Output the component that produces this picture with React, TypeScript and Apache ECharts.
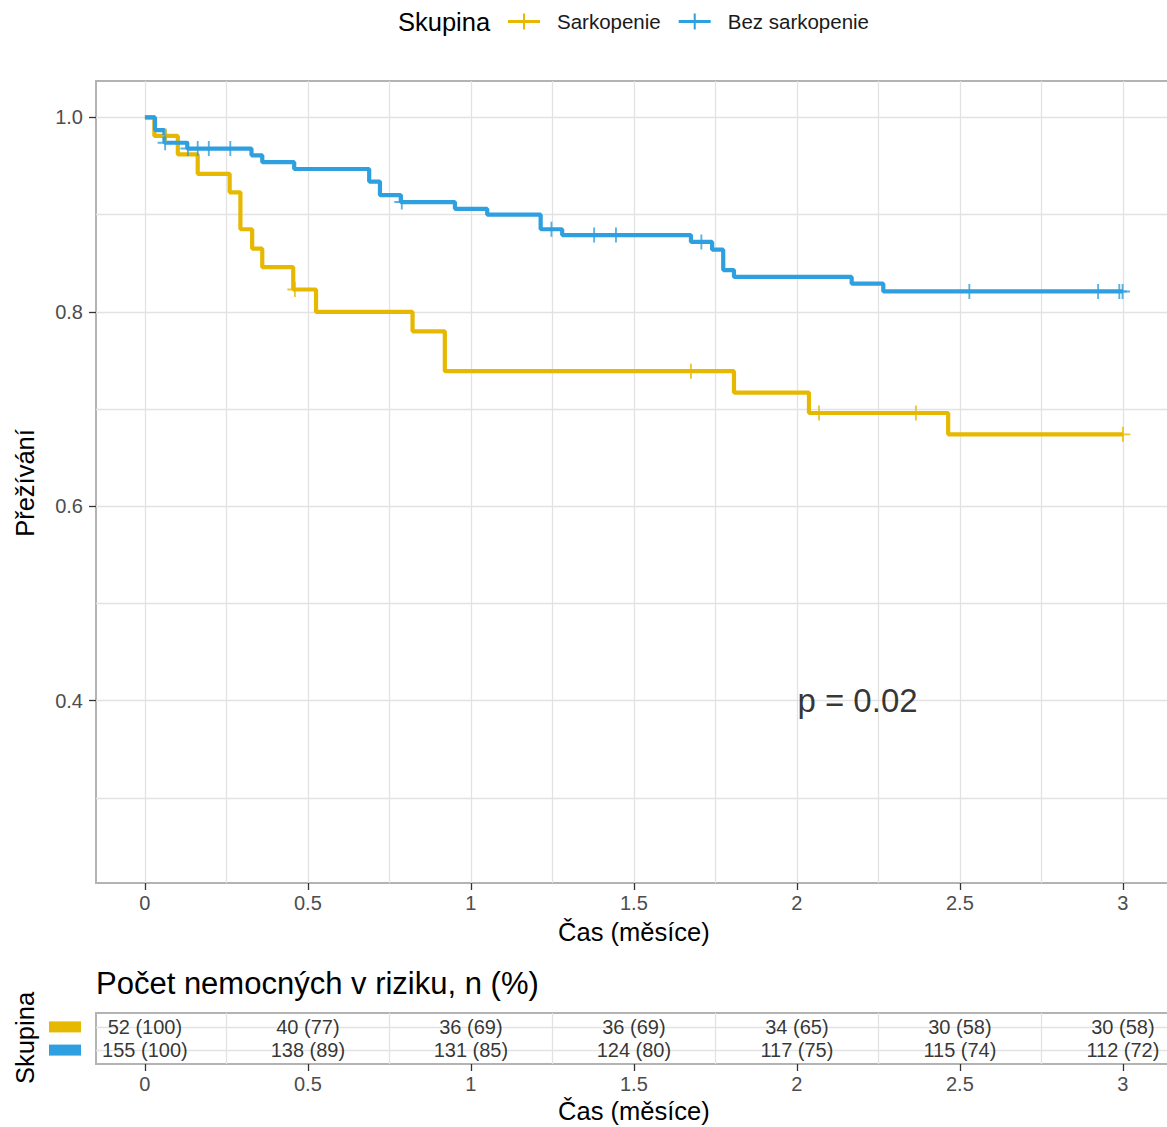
import React, { useEffect, useRef } from "react";
import * as echarts from "echarts";

const FONT = "'Liberation Sans', Arial, sans-serif";
const YELLOW = "#E7B800";
const BLUE = "#2E9FDF";

const groups = ["Sarkopenie", "Bez sarkopenie"];

// Kaplan-Meier steps (time in months, survival)
const sarkTimes = [0, 0.029, 0.101, 0.162, 0.26, 0.293, 0.329, 0.36, 0.455, 0.525, 0.821, 0.92, 1.807, 2.037, 2.464, 3.0];
const sarkSurv = [1, 0.981, 0.962, 0.942, 0.923, 0.885, 0.865, 0.846, 0.823, 0.8, 0.78, 0.739, 0.717, 0.696, 0.674, 0.674];
const sarkCensor = [0.064, 0.46, 1.675, 2.068, 2.365, 3.0];

const bezTimes = [0, 0.031, 0.06, 0.13, 0.327, 0.36, 0.458, 0.688, 0.721, 0.785, 0.951, 1.05, 1.214, 1.28, 1.675, 1.74, 1.774, 1.807, 2.168, 2.265, 3.0];
const bezSurv = [1, 0.987, 0.974, 0.968, 0.961, 0.954, 0.947, 0.934, 0.92, 0.913, 0.906, 0.9, 0.885, 0.879, 0.872, 0.864, 0.843, 0.836, 0.829, 0.821, 0.821];
const bezCensor = [0.062, 0.132, 0.162, 0.196, 0.262, 0.788, 1.247, 1.378, 1.445, 1.707, 2.529, 2.924, 2.989, 2.999];

// Risk table
const riskTimes = [0, 0.5, 1, 1.5, 2, 2.5, 3];
const riskSark = ["52 (100)", "40 (77)", "36 (69)", "36 (69)", "34 (65)", "30 (58)", "30 (58)"];
const riskBez = ["155 (100)", "138 (89)", "131 (85)", "124 (80)", "117 (75)", "115 (74)", "112 (72)"];

const xTicks = [0, 0.5, 1, 1.5, 2, 2.5, 3];
const xMinor = [0.25, 0.75, 1.25, 1.75, 2.25, 2.75];
const yTicks = [0.4, 0.6, 0.8, 1.0];
const yMinor = [0.3, 0.5, 0.7, 0.9];

const pText = "p = 0.02";
const pPos = [2, 0.4];

const PLUS = "path://M7,0h2v7h7v2h-7v7h-2v-7h-7v-2h7z";
const LEG_ICON = "path://M0,6.5h32v3h-32z M15,0h2v16h-2z";

function survAt(times: number[], surv: number[], t: number) {
  let s = surv[0];
  for (let i = 0; i < times.length; i++) if (times[i] <= t) s = surv[i];
  return s;
}

export default function App() {
  const ref = useRef<HTMLDivElement>(null);
  useEffect(() => {
    const chart = echarts.init(ref.current!, null, { renderer: "svg" });
    const gridLine = { color: "#e2e2e2", width: 1.3, type: "solid" as const };
    const mainGridLines = [
      ...[...xTicks, ...xMinor].map((v) => ({ xAxis: v })),
      ...[...yTicks, ...yMinor].map((v) => ({ yAxis: v })),
    ];
    const tableGridLines = [...xMinor.map((v) => ({ xAxis: v })), { yAxis: 1 }, { yAxis: 2 }];

    const xAxisCommon = (gridIndex: number, nameGap: number) => ({
      type: "value",
      gridIndex,
      min: -0.15,
      max: 3.15,
      axisLine: { show: false, onZero: false },
      splitLine: { show: false },
      axisTick: { show: true, length: 7, customValues: xTicks, lineStyle: { color: "#333", width: 1.3 } },
      axisLabel: {
        customValues: xTicks,
        formatter: (v: number) => String(v),
        fontSize: 20,
        color: "#4d4d4d",
        fontFamily: FONT,
        margin: 10,
      },
      name: "Čas (měsíce)",
      nameLocation: "middle",
      nameGap,
      nameTextStyle: { fontSize: 25.5, color: "#000", fontFamily: FONT },
    });

    chart.setOption({
      animation: false,
      backgroundColor: "#fff",
      textStyle: { fontFamily: FONT },
      legend: {
        data: groups,
        left: 508,
        top: 11,
        padding: 0,
        itemWidth: 32,
        itemHeight: 16,
        itemGap: 18,
        icon: LEG_ICON,
        selectedMode: false,
        textStyle: { fontSize: 20.5, color: "#1a1a1a", fontFamily: FONT, padding: [0, 0, 0, 12] },
      },
      graphic: [
        { type: "text", left: 398, top: 9, style: { text: "Skupina", fontSize: 25.5, fill: "#000", fontFamily: FONT } },
        {
          type: "text",
          x: 25,
          y: 483,
          rotation: Math.PI / 2,
          style: { text: "Přežívání", fontSize: 25.5, fill: "#000", fontFamily: FONT, align: "center", verticalAlign: "middle" },
        },
        {
          type: "text",
          x: 96,
          y: 983,
          style: { text: "Počet nemocných v riziku, n (%)", fontSize: 31, fill: "#000", fontFamily: FONT, align: "left", verticalAlign: "middle" },
        },
        {
          type: "text",
          x: 25,
          y: 1038,
          rotation: Math.PI / 2,
          style: { text: "Skupina", fontSize: 25.5, fill: "#000", fontFamily: FONT, align: "center", verticalAlign: "middle" },
        },
      ],
      grid: [
        { left: 96, top: 81, width: 1075.8, height: 802, show: true, borderColor: "#b3b3b3", borderWidth: 2, backgroundColor: "transparent" },
        { left: 96, top: 1013, width: 1075.8, height: 51, show: true, borderColor: "#b3b3b3", borderWidth: 2, backgroundColor: "transparent" },
      ],
      xAxis: [xAxisCommon(0, 36), xAxisCommon(1, 34)],
      yAxis: [
        {
          type: "value",
          gridIndex: 0,
          min: 0.2125,
          max: 1.0375,
          axisLine: { show: false, onZero: false },
          splitLine: { show: false },
          axisTick: { show: true, length: 7, customValues: yTicks, lineStyle: { color: "#333", width: 1.3 } },
          axisLabel: {
            customValues: yTicks,
            formatter: (v: number) => v.toFixed(1),
            fontSize: 20,
            color: "#4d4d4d",
            fontFamily: FONT,
            margin: 13,
          },
        },
        {
          type: "value",
          gridIndex: 1,
          min: 0.4,
          max: 2.6,
          inverse: true,
          axisLine: { show: false, onZero: false },
          splitLine: { show: false },
          axisTick: { show: false },
          axisLabel: {
            customValues: [1, 2],
            margin: 15,
            formatter: (v: number) => (v === 1 ? "{s| }" : "{b| }"),
            rich: {
              s: { backgroundColor: YELLOW, width: 32, height: 11 },
              b: { backgroundColor: BLUE, width: 32, height: 11 },
            },
          },
        },
      ],
      series: [
        {
          name: "grid-main",
          type: "line",
          xAxisIndex: 0,
          yAxisIndex: 0,
          data: [],
          z: 1,
          silent: true,
          markLine: { z: 1, silent: true, symbol: ["none", "none"], label: { show: false }, lineStyle: gridLine, data: mainGridLines },
        },
        {
          name: groups[0],
          type: "line",
          step: "end",
          xAxisIndex: 0,
          yAxisIndex: 0,
          showSymbol: false,
          symbol: "none",
          color: YELLOW,
          lineStyle: { color: YELLOW, width: 4.2 },
          data: sarkTimes.map((t, i) => [t, sarkSurv[i]]),
          z: 3,
        },
        {
          name: groups[1],
          type: "line",
          step: "end",
          xAxisIndex: 0,
          yAxisIndex: 0,
          showSymbol: false,
          symbol: "none",
          color: BLUE,
          lineStyle: { color: BLUE, width: 4.2 },
          data: bezTimes.map((t, i) => [t, bezSurv[i]]),
          z: 4,
        },
        {
          name: "cens-sark",
          type: "scatter",
          xAxisIndex: 0,
          yAxisIndex: 0,
          symbol: PLUS,
          symbolSize: 15,
          itemStyle: { color: YELLOW },
          data: sarkCensor.map((t) => [t, survAt(sarkTimes, sarkSurv, t)]),
          z: 5,
        },
        {
          name: "cens-bez",
          type: "scatter",
          xAxisIndex: 0,
          yAxisIndex: 0,
          symbol: PLUS,
          symbolSize: 15,
          itemStyle: { color: BLUE },
          data: bezCensor.map((t) => [t, survAt(bezTimes, bezSurv, t)]),
          z: 6,
        },
        {
          name: "pval",
          type: "scatter",
          xAxisIndex: 0,
          yAxisIndex: 0,
          symbolSize: 1,
          itemStyle: { color: "transparent" },
          data: [pPos],
          label: { show: true, position: "right", distance: 0, formatter: pText, fontSize: 33, color: "#000", fontFamily: FONT },
          z: 7,
        },
        {
          name: "grid-table",
          type: "line",
          xAxisIndex: 1,
          yAxisIndex: 1,
          data: [],
          z: 1,
          silent: true,
          markLine: { z: 1, silent: true, symbol: ["none", "none"], label: { show: false }, lineStyle: gridLine, data: tableGridLines },
        },
        {
          name: "risk-sark",
          type: "scatter",
          xAxisIndex: 1,
          yAxisIndex: 1,
          symbolSize: 1,
          itemStyle: { color: "transparent" },
          data: riskTimes.map((t, i) => [t, 1, riskSark[i]]),
          label: { show: true, position: "inside", formatter: (p: any) => p.value[2], fontSize: 20, color: "#000", fontFamily: FONT },
          z: 5,
        },
        {
          name: "risk-bez",
          type: "scatter",
          xAxisIndex: 1,
          yAxisIndex: 1,
          symbolSize: 1,
          itemStyle: { color: "transparent" },
          data: riskTimes.map((t, i) => [t, 2, riskBez[i]]),
          label: { show: true, position: "inside", formatter: (p: any) => p.value[2], fontSize: 20, color: "#000", fontFamily: FONT },
          z: 5,
        },
      ],
    });
    return () => chart.dispose();
  }, []);

  return (
    <div style={{ position: "absolute", left: 0, top: 0, width: 1167, height: 1127, overflow: "hidden", background: "#fff" }}>
      <div ref={ref} style={{ width: 1180, height: 1127 }} />
    </div>
  );
}
